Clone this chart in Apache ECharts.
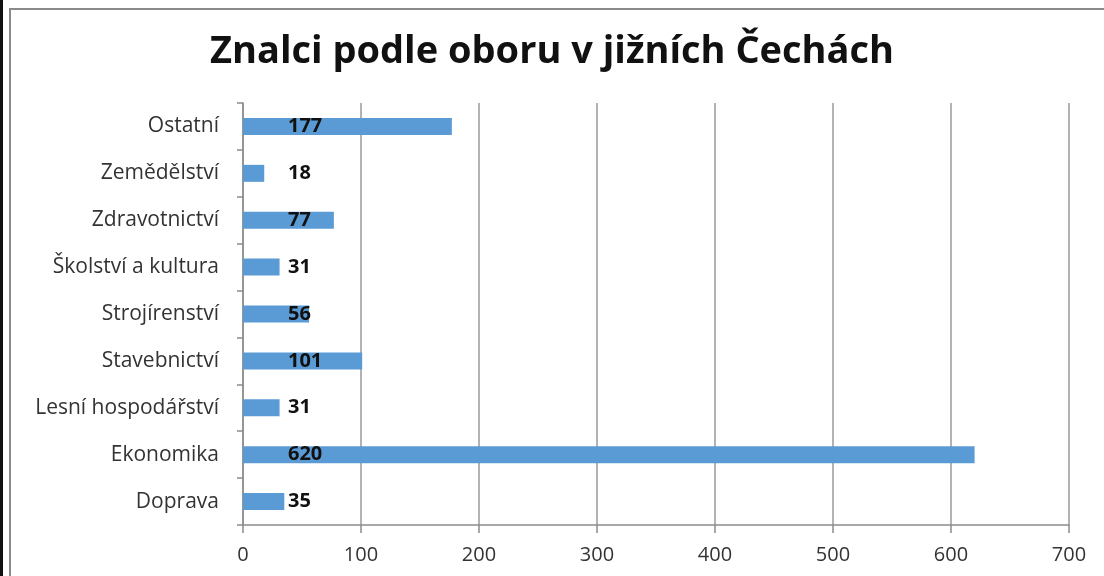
<!DOCTYPE html>
<html>
<head>
<meta charset="utf-8">
<script src="https://cdn.jsdelivr.net/npm/echarts@6/dist/echarts.min.js"></script>
<style>
  html, body { margin: 0; padding: 0; background: #fff; }
  #chart { width: 1104px; height: 576px; }
</style>
</head>
<body>
<div id="chart"></div>
<script>
// kategorie odspodu nahoru, jak jsou v grafu
var obory = ['Doprava', 'Ekonomika', 'Lesní hospodářství', 'Stavebnictví', 'Strojírenství',
             'Školství a kultura', 'Zdravotnictví', 'Zemědělství', 'Ostatní'];
var pocty = [35, 620, 31, 101, 56, 31, 77, 18, 177];
var osaX = [0, 100, 200, 300, 400, 500, 600, 700];

var chart = echarts.init(document.getElementById('chart'));
var font = '"Open Sans", "Noto Sans", sans-serif';

var option = {
  animation: false,
  title: {
    text: 'Znalci podle oboru v jižních Čechách',
    left: 'center',
    top: 28,
    textStyle: { fontFamily: font, fontSize: 38, fontWeight: 'bold', color: '#111' }
  },
  graphic: [
    // rámeček grafu
    { type: 'rect', shape: { x: 10, y: 9, width: 1110, height: 600 },
      style: { fill: 'none', stroke: '#8a8a8a', lineWidth: 2 } },
    { type: 'rect', shape: { x: 0, y: 0, width: 3, height: 576 },
      style: { fill: '#111' } }
  ],
  grid: { left: 243, right: 35, top: 103, bottom: 51 },
  xAxis: {
    type: 'value',
    min: osaX[0],
    max: osaX[osaX.length - 1],
    interval: 100,
    axisLine: { show: true, lineStyle: { color: '#8c8c8c', width: 1.5 } },
    axisTick: { show: true, length: 8, lineStyle: { color: '#8c8c8c', width: 1.5 } },
    splitLine: { show: true, lineStyle: { color: '#999', width: 1.5 } },
    axisLabel: { margin: 20, fontFamily: font, fontSize: 20, color: '#333' }
  },
  yAxis: {
    type: 'category',
    data: obory,
    axisLine: { show: true, lineStyle: { color: '#8c8c8c', width: 1.5 } },
    axisTick: { show: true, length: 6, lineStyle: { color: '#8c8c8c', width: 1.5 } },
    axisLabel: { margin: 24, fontFamily: font, fontSize: 21, color: '#333' }
  },
  series: [{
    type: 'bar',
    data: pocty,
    barWidth: 17,
    itemStyle: { color: '#5b9bd5' },
    label: {
      show: true,
      position: [45, '50%'],
      align: 'left',
      verticalAlign: 'middle',
      fontFamily: font,
      fontSize: 20,
      fontWeight: 'bold',
      color: '#111'
    }
  }]
};

chart.setOption(option);
</script>
</body>
</html>
